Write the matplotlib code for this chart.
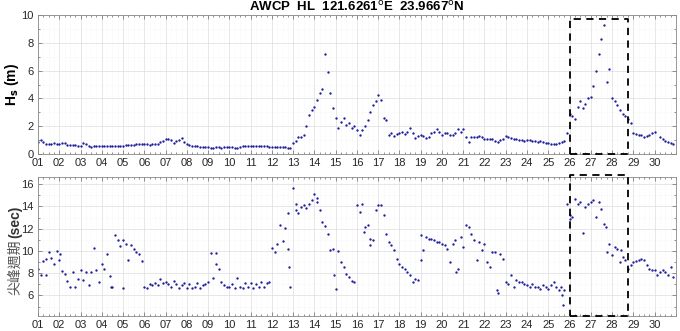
import numpy as np
import matplotlib

matplotlib.use("Agg")
import matplotlib.pyplot as plt  # noqa: E402
from matplotlib.ticker import MultipleLocator  # noqa: E402

plt.rcParams["font.family"] = ["Liberation Sans", "Noto Sans CJK TC", "DejaVu Sans"]

# 3-hourly samples, one row per day (01 .. 30)
HS_M = [
    [0.90, 1.00, 0.85, 0.75, 0.72, 0.75, 0.78, 0.72],
    [0.72, 0.82, 0.78, 0.65, 0.62, 0.62, 0.65, 0.60],
    [0.60, 0.78, 0.70, 0.55, 0.52, 0.55, 0.55, 0.55],
    [0.55, 0.55, 0.58, 0.56, 0.58, 0.55, 0.57, 0.60],
    [0.60, 0.62, 0.63, 0.65, 0.66, 0.70, 0.72, 0.72],
    [0.70, 0.72, 0.65, 0.70, 0.75, 0.75, 0.85, 0.95],
    [1.10, 1.10, 1.00, 0.80, 0.95, 1.00, 1.15, 0.85],
    [0.70, 0.62, 0.58, 0.55, 0.55, 0.50, 0.50, 0.48],
    [0.48, 0.45, 0.45, 0.50, 0.48, 0.45, 0.47, 0.48],
    [0.48, 0.47, 0.45, 0.42, 0.50, 0.55, 0.58, 0.57],
    [0.55, 0.58, 0.56, 0.55, 0.55, 0.57, 0.55, 0.52],
    [0.52, 0.53, 0.52, 0.50, 0.52, 0.50, 0.42, 0.45],
    [0.80, 0.95, 1.25, 1.20, 1.35, 2.00, 2.80, 3.20],
    [3.40, 3.90, 4.40, 4.70, 7.20, 5.90, 4.40, 3.30],
    [2.60, 1.90, 2.30, 2.60, 2.10, 2.20, 1.85, 2.00],
    [1.70, 1.40, 1.70, 2.00, 2.45, 3.05, 3.50, 3.80],
    [4.25, 3.90, 2.60, 2.45, 1.40, 1.50, 1.30, 1.45],
    [1.50, 1.55, 1.45, 1.60, 1.85, 1.50, 1.15, 1.30],
    [1.40, 1.30, 1.15, 1.25, 1.50, 1.60, 1.80, 1.60],
    [1.40, 1.50, 1.50, 1.40, 1.35, 1.50, 1.80, 1.60],
    [1.80, 1.25, 0.90, 1.20, 1.25, 1.25, 1.30, 1.20],
    [1.10, 1.05, 1.10, 1.05, 0.95, 0.85, 1.00, 1.05],
    [1.30, 1.20, 1.15, 1.10, 1.05, 1.00, 1.00, 0.95],
    [1.00, 1.00, 0.95, 0.95, 0.90, 0.95, 0.85, 0.80],
    [0.80, 0.70, 0.72, 0.75, 0.78, 0.85, 0.95, 1.50],
    [2.90, 2.70, 2.50, 3.40, 3.80, 3.30, 3.60, 4.00],
    [4.10, 4.90, 6.00, 7.20, 8.30, 9.30, 5.20, 6.10],
    [4.00, 3.80, 3.50, 3.20, 2.90, 2.70, 2.50, 2.20],
    [1.50, 1.45, 1.40, 1.35, 1.25, 1.30, 1.40, 1.50],
    [1.55, np.nan, 1.20, 1.10, 0.95, 0.85, 0.78, 0.72],
]

TP_SEC = [
    [8.40, 7.80, 9.10, 9.30, 9.90, 9.40, 8.80, 10.00],
    [9.20, 8.20, 7.90, 7.30, 6.75, 8.10, 6.80, 7.50],
    [8.25, 7.35, 8.10, 6.90, 8.10, 10.30, 8.25, 7.20],
    [8.85, 8.40, 9.70, 7.75, 6.75, 11.40, 11.00, 10.40],
    [10.95, 10.60, 9.15, 10.50, 10.20, 9.90, 9.75, 9.10],
    [6.75, 6.70, 7.00, 6.90, 7.10, 6.90, 7.50, 7.10],
    [7.20, 7.00, 6.80, 7.30, 7.00, 6.70, 6.90, 7.10],
    [6.70, 7.00, 6.65, 6.80, 7.10, 6.70, 6.90, 7.00],
    [7.20, 9.80, 7.60, 9.80, 8.40, 7.20, 6.90, 6.75],
    [6.75, 7.00, 6.70, 7.60, 6.80, 6.70, 7.10, 6.75],
    [7.10, 6.70, 7.00, 6.75, 7.20, 6.80, 7.10, 7.20],
    [10.30, 9.90, 10.60, 12.30, 10.90, 12.10, 13.40, 6.75],
    [15.70, 14.25, 13.40, 13.95, 14.10, 13.90, 14.25, 14.55],
    [15.10, 14.40, 13.65, 12.60, 12.20, 11.55, 10.10, 10.20],
    [6.60, 10.00, 9.00, 8.55, 7.95, 7.65, 7.30, 7.20],
    [14.10, 13.50, 14.20, 12.15, 12.30, 10.50, 10.95, 13.65],
    [14.10, 14.10, 13.20, 11.55, 10.80, 10.50, 10.05, 9.30],
    [8.85, 8.60, 8.40, 8.10, 7.80, 7.20, 7.50, 7.40],
    [9.15, 10.05, 11.25, 11.10, 11.10, 10.95, 10.80, 10.80],
    [10.65, 10.50, 10.20, 9.05, 10.65, 10.95, 8.40, 11.25],
    [10.35, 12.30, 12.15, 11.50, 10.95, 9.15, 10.80, 10.05],
    [10.65, 9.00, 8.55, 9.90, 9.90, 6.20, 9.75, 9.30],
    [7.20, 7.05, 7.80, 6.75, 7.35, 7.20, 7.20, 7.05],
    [6.90, 6.75, 7.05, 6.80, 6.75, 6.60, 6.90, 6.75],
    [6.60, 6.90, 7.20, 6.80, 6.45, 6.00, 6.45, 14.20],
    [13.20, 13.05, 14.70, 14.25, 14.40, 11.60, 13.95, 14.25],
    [14.40, 14.55, 13.05, 14.40, 13.80, 12.45, 9.90, 10.65],
    [9.60, 10.35, 10.20, 9.00, 9.45, 9.15, 8.40, 8.70],
    [9.00, 9.10, 9.20, 9.25, 9.15, 8.70, 8.40, 8.25],
    [8.25, 7.80, 8.15, 8.25, 8.10, 7.80, 8.60, 7.70],
]

# isolated peak-period readings that fall between the 3-hourly slots
TP_EXTRA_DAY = [1.37, 2.05, 4.45, 5.0, 9.35, 12.8, 12.75, 14.9, 16.35, 16.6,
                19.0, 20.65, 22.6, 25.6, 25.7, 26.0, 27.7, 28.4, 14.1, 13.15]
TP_EXTRA_SEC = [7.80, 9.75, 6.75, 6.70, 8.80, 8.60, 10.20, 7.80, 11.70, 11.10,
                11.40, 8.10, 6.45, 6.75, 5.10, 12.90, 12.15, 10.05, 14.80, 13.65]

DAY_LABELS = [f"{d:02d}" for d in range(1, 31)]
BOX_DAYS = (26.0, 28.77)
TITLE = "AWCP  HL  121.6261$^{\\rm o}$E  23.9667$^{\\rm o}$N"

DOT = "#1f1f9c"


def style(ax):
    ax.set_xlim(1, 31)
    ax.set_xticks(range(1, 31))
    ax.set_xticklabels(DAY_LABELS)
    ax.xaxis.set_minor_locator(MultipleLocator(0.25))
    ax.yaxis.set_minor_locator(MultipleLocator(1))
    ax.tick_params(which="both", direction="in", top=True, right=True,
                   colors="#666666", labelcolor="#262626", labelsize=8,
                   width=0.5)
    ax.tick_params(which="major", length=3, pad=3)
    ax.tick_params(which="minor", length=1.5)
    ax.grid(which="major", color="#dddddd", lw=0.5)
    ax.grid(which="minor", color="#eeeeee", lw=0.4, ls=":")
    ax.set_axisbelow(True)
    for s in ax.spines.values():
        s.set_color("#888888")
        s.set_linewidth(0.6)


def box(ax, y0, y1):
    x0, x1 = BOX_DAYS
    ax.plot([x0, x1, x1, x0, x0], [y0, y0, y1, y1, y0], color="black",
            ls=(0, (4, 3)), lw=1.3, clip_on=False, zorder=5)


fig = plt.figure(figsize=(6.8, 3.31), dpi=100)
ax1 = fig.add_axes([0.0559, 0.5347, 0.938, 0.42])
ax2 = fig.add_axes([0.0559, 0.0453, 0.938, 0.42])

t = 1 + np.arange(30 * 8) / 8.0
hs = np.array(HS_M).ravel()
tp = np.array(TP_SEC).ravel()

ax1.plot(t, hs, ".", ms=3.4, color=DOT, mew=0)
style(ax1)
ax1.set_ylim(0, 10)
ax1.set_yticks(range(0, 11, 2))
ax1.set_ylabel("H$_{\\bf s}$ (m)", fontweight="bold", fontsize=10)
ax1.yaxis.set_label_coords(-0.026, 0.5)
ax1.set_title(TITLE, fontweight="bold", fontsize=9.5, pad=3)
box(ax1, 0, 9.7)

ax2.plot(t, tp, ".", ms=3.4, color=DOT, mew=0)
ax2.plot(TP_EXTRA_DAY, TP_EXTRA_SEC, ".", ms=3.4, color=DOT, mew=0)
style(ax2)
ax2.set_ylim(4.15, 16.65)
ax2.set_yticks(range(6, 17, 2))
box(ax2, 4.15, 16.8)

fig.text(0.022, 0.193, "尖峰週期", rotation=90, ha="center", va="center",
         fontsize=10, color="#555555", family=["Noto Sans CJK TC", "DejaVu Sans"])
fig.text(0.022, 0.330, "(sec)", rotation=90, ha="center", va="center",
         fontsize=10, fontweight="bold", color="#333333")

fig.savefig("out.png", dpi=100)
